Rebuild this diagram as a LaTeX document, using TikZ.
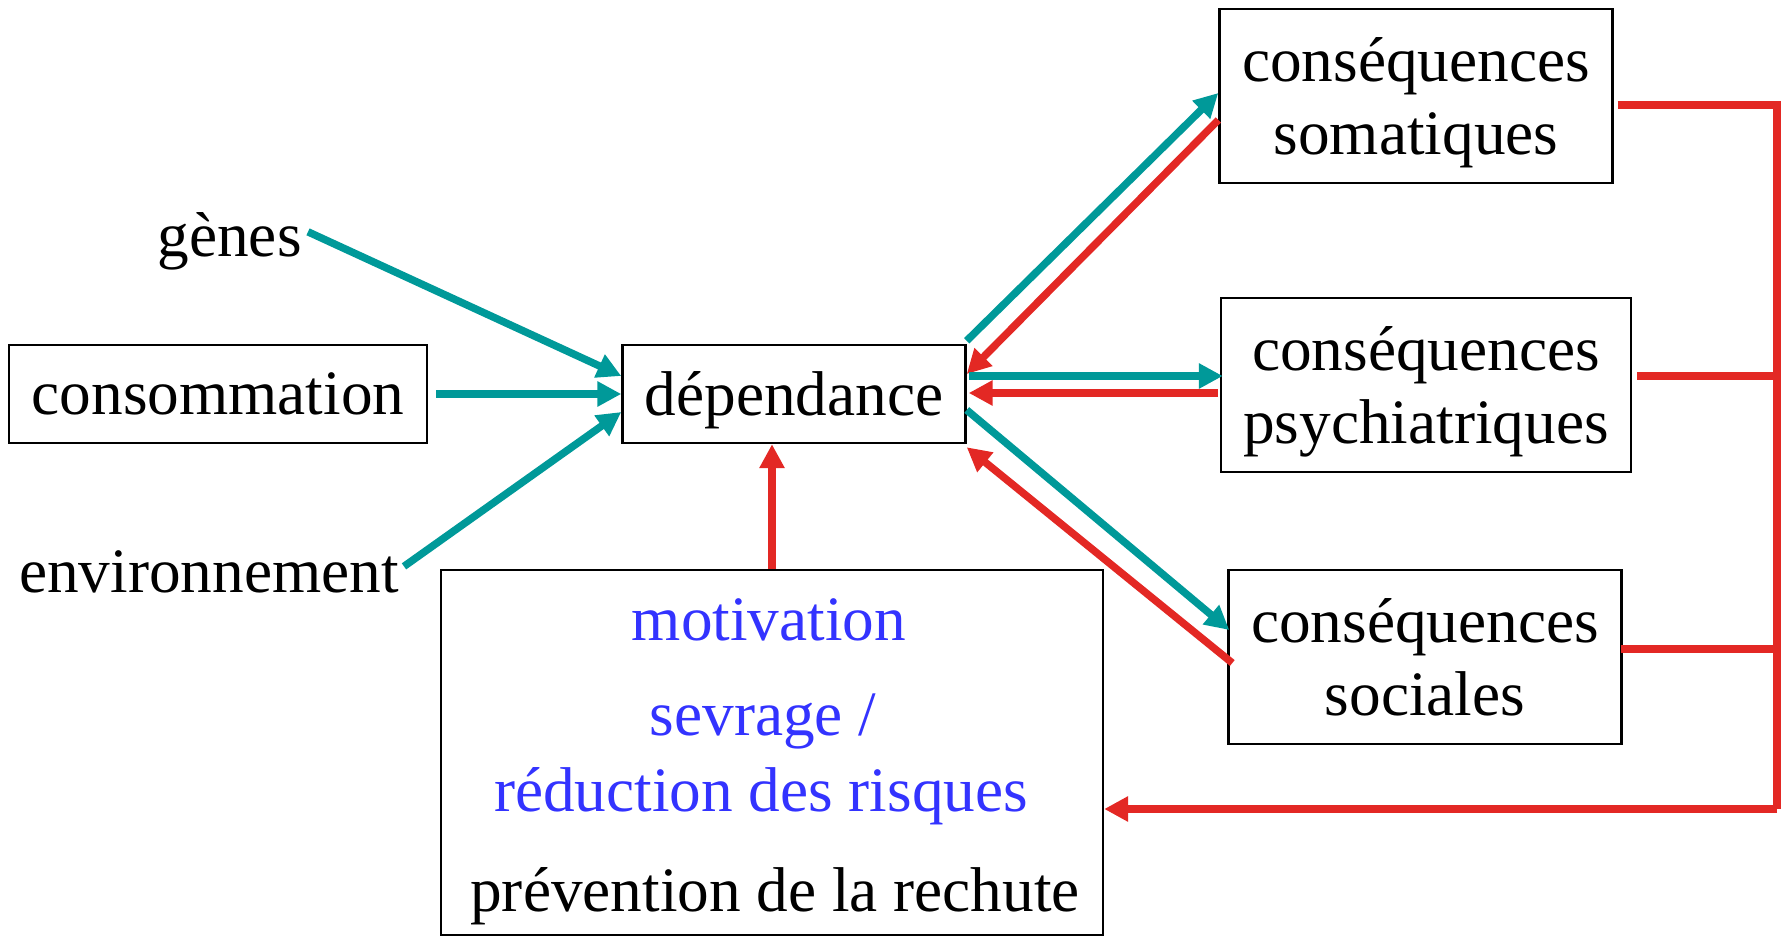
\documentclass[tikz,border=0pt]{standalone}
\usepackage{fontspec}
\setmainfont{Liberation Serif}
\usetikzlibrary{arrows.meta,calc}
\definecolor{sarcelle}{RGB}{0,153,153}
\definecolor{rouge}{RGB}{227,40,36}
\definecolor{bleu}{RGB}{51,51,255}
\begin{document}
\begin{tikzpicture}[x=0.02cm,y=-0.02cm,font=\fontsize{36}{42}\selectfont,
    boite/.style={draw,line width=0.05cm,inner sep=0pt,align=center,text depth=0pt},
    vert/.style={sarcelle,line width=0.15cm,-{Triangle[length=0.48cm,width=0.48cm]}},
    retour/.style={rouge,line width=0.15cm,-{Triangle[length=0.48cm,width=0.48cm]}},
    trait/.style={rouge,line width=0.15cm},
    mot/.style={inner sep=0pt}]
  \useasboundingbox (0,0) rectangle (1786,936);
  % facteurs
  \node[mot,anchor=base east] (gen) at (302,256) {gènes};
  \node[boite,minimum width=8.36cm,minimum height=1.96cm] (cons) at (218,394) {consommation};
  \node[mot,anchor=base east] (env) at (399,592) {environnement};
  \node[boite,minimum width=6.86cm,minimum height=1.96cm] (dep) at (794,394) {dépendance};
  % conséquences
  \node[boite,minimum width=7.86cm,minimum height=3.48cm] (soma) at (1416,96) {conséquences\\somatiques};
  \node[boite,minimum width=8.2cm,minimum height=3.48cm] (psy) at (1426,385) {conséquences\\psychiatriques};
  \node[boite,minimum width=7.86cm,minimum height=3.48cm] (soc) at (1425,657) {conséquences\\sociales};
  % traitement
  \node[boite,minimum width=13.24cm,minimum height=7.3cm] (aide) at (772,752.5) {};
  \node[mot,anchor=base,text=bleu] (motiv) at (769,640) {motivation};
  \node[mot,anchor=base,text=bleu] (sevr) at (763,735) {sevrage /};
  \node[mot,anchor=base,text=bleu] (reduc) at (761,811) {réduction des risques};
  \node[mot,anchor=base] (prev) at (775,911) {prévention de la rechute};

  \draw[vert] ($(gen.east)+(6,-9)$) -- ($(dep.west)+(0,-18)$);
  \draw[vert] ($(cons.east)+(8,0)$) -- (dep.west);
  \draw[vert] ($(env.east)+(5,-5)$) -- ($(dep.west)+(0,18)$);

  \draw[vert] ($(dep.north east)+(0,-3)$) -- ($(soma.west)+(0,-3)$);
  \draw[retour] ($(soma.west)+(0,24)$) -- ($(dep.east)+(0,-20)$);
  \draw[vert] ($(dep.east)+(2,-18)$) -- ($(psy.west)+(3,-9)$);
  \draw[retour] ($(psy.west)+(-2,8)$) -- ($(dep.east)+(2,-1)$);
  \draw[vert] ($(dep.east)+(0,16)$) -- ($(soc.west)+(2,-27)$);
  \draw[retour] ($(soc.west)+(5,6)$) -- ($(dep.south east)+(0,3)$);
  \draw[retour] (aide.north) -- (aide.north |- dep.south);

  % retour vers le traitement
  \coordinate (coin) at (1777,809);
  \draw[trait] ($(soma.east)+(4,9)$) -| (coin);
  \draw[trait] ($(psy.east)+(5,-9)$) -| (coin);
  \draw[trait] ($(soc.east)+(-2,-8)$) -| (coin);
  \draw[retour] (coin) -- (aide.east |- coin);
\end{tikzpicture}
\end{document}
